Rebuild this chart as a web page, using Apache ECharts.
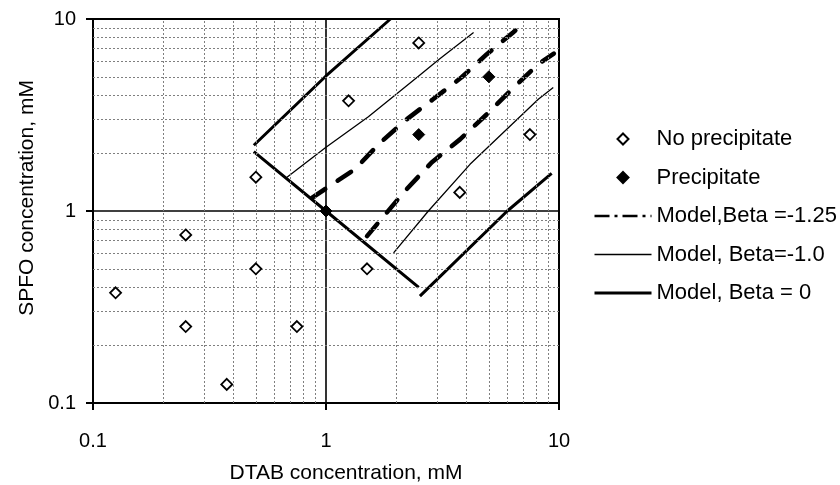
<!DOCTYPE html>
<html>
<head>
<meta charset="utf-8">
<script src="https://cdn.jsdelivr.net/npm/echarts@6/dist/echarts.min.js"></script>
<style>
  html, body { margin: 0; padding: 0; background: #fff; }
  #chart { width: 840px; height: 485px; }
</style>
</head>
<body>
<div id="chart"></div>
<script>
// Decade labels on both log axes
const decadeTicks = [0.1, 1, 10];
// Values for the dotted minor grid lines (2..9 within each decade)
const minorGridValues = [0.2, 0.3, 0.4, 0.5, 0.6, 0.7, 0.8, 0.9, 2, 3, 4, 5, 6, 7, 8, 9];

// Observations: [DTAB mM, SPFO mM]
const noPrecipitate = [
  [0.125, 0.375], [0.25, 0.75], [0.25, 0.25], [0.375, 0.125],
  [0.5, 0.5], [0.5, 1.5], [0.75, 0.25], [1.5, 0.5],
  [1.25, 3.75], [2.5, 7.5], [3.75, 1.25], [7.5, 2.5]
];
const precipitate = [[1, 1], [2.5, 2.5], [5, 5]];

// Model boundaries, Beta = -1.25
const beta125Upper = [
  [0.87, 1.17], [1.33, 1.65], [1.71, 2.27], [2.22, 3.0], [2.88, 3.82],
  [3.82, 4.97], [4.9, 6.56], [6.37, 8.53], [7.2, 9.7]
];
const beta125Lower = [
  [1.5, 0.74], [2.18, 1.27], [2.84, 1.79], [3.76, 2.36], [4.9, 3.19],
  [6.27, 4.3], [8.15, 5.82], [9.5, 6.6]
];

// Model boundaries, Beta = -1.0
const beta10Upper = [[0.68, 1.5], [1, 2.15], [1.52, 3.1], [2.5, 5.05], [3.08, 6.2], [4.3, 8.5]];
const beta10Lower = [[1.95, 0.605], [2.75, 1.0], [4.15, 1.75], [8.15, 3.82], [9.45, 4.4]];

// Model boundaries, Beta = 0
const beta0Upper = [[0.49, 2.2], [1, 5.05], [1.89, 10]];
const beta0Lower = [[0.49, 2.04], [1, 1], [2.5, 0.4]];
const beta0Right = [[2.53, 0.36], [6, 1], [9.3, 1.57]];

const FONT = 'Liberation Sans, Arial, Helvetica, sans-serif';
const NAME_B125 = 'Model,Beta =-1.25';
const NAME_B10 = 'Model, Beta=-1.0';
const NAME_B0 = 'Model, Beta = 0';
const DIAMOND = 'path://M0,-1L1,0L0,1L-1,0Z';

const fmt = v => String(Number(v.toPrecision(3)));

const logAxisBase = {
  type: 'log',
  logBase: 10,
  min: 0.1,
  max: 10,
  nameLocation: 'middle',
  axisLine: { show: true, lineStyle: { color: '#000', width: 2 } },
  axisTick: { show: true, inside: false, length: 7, lineStyle: { color: '#000', width: 2 } },
  splitLine: { show: true, lineStyle: { color: '#000', width: 1.6 } },
  minorTick: { show: false },
  minorSplitLine: { show: false }
};

const thickDash = { color: '#000', width: 4.6, type: [16, 15], cap: 'round' };
const thin = { color: '#000', width: 1.3 };
const thick = { color: '#000', width: 3 };

function lineSeries(name, data, style) {
  return {
    type: 'line', name, data,
    symbol: 'none', showSymbol: false, smooth: false,
    lineStyle: style, itemStyle: { color: '#000' }, silent: true, z: 3
  };
}

const hiddenDot = { opacity: 0 };

const chart = echarts.init(document.getElementById('chart'), null, { renderer: 'canvas' });
chart.setOption({
  animation: false,
  backgroundColor: '#fff',
  textStyle: { fontFamily: FONT, color: '#000' },
  grid: {
    left: 93, right: 281, top: 19, bottom: 82,
    containLabel: false, outerBoundsMode: 'none',
    show: true, borderColor: '#000', borderWidth: 2, backgroundColor: 'transparent'
  },
  xAxis: Object.assign({}, logAxisBase, {
    name: 'DTAB concentration, mM',
    nameGap: 60,
    nameTextStyle: { fontSize: 21, color: '#000', fontFamily: FONT, padding: [0, 0, 0, 40] },
    axisLabel: { fontSize: 20, color: '#000', margin: 28, fontFamily: FONT,
      formatter: v => decadeTicks.includes(Number(fmt(v))) ? fmt(v) : '' }
  }),
  yAxis: Object.assign({}, logAxisBase, {
    name: 'SPFO concentration, mM',
    nameGap: 54,
    nameTextStyle: { fontSize: 21, color: '#000', fontFamily: FONT, padding: [0, 0, 0, 26] },
    axisLabel: { fontSize: 20, color: '#000', margin: 17, fontFamily: FONT,
      formatter: v => decadeTicks.includes(Number(fmt(v))) ? fmt(v) : '' }
  }),
  legend: {
    orient: 'vertical',
    left: 588, top: 123,
    itemWidth: 57, itemHeight: 11, itemGap: 16.5,
    symbolKeepAspect: true,
    selectedMode: false,
    textStyle: { fontSize: 22, color: '#000', fontFamily: FONT },
    data: [
      { name: 'No precipitate', icon: DIAMOND },
      { name: 'Precipitate', icon: DIAMOND },
      { name: NAME_B125, itemStyle: hiddenDot, lineStyle: { type: [15, 5, 3, 5], width: 2.5, cap: 'butt' } },
      { name: NAME_B10, itemStyle: hiddenDot, lineStyle: { width: 1.5 } },
      { name: NAME_B0, itemStyle: hiddenDot, lineStyle: { width: 3 } }
    ]
  },
  series: [
    {
      // dotted minor grid
      type: 'line', name: 'minor grid', data: [], silent: true, z: 1,
      markLine: {
        silent: true, symbol: ['none', 'none'], animation: false,
        label: { show: false },
        lineStyle: { color: '#7f7f7f', width: 1, type: [2, 2] },
        emphasis: { disabled: true },
        data: minorGridValues.map(v => ({ xAxis: v }))
          .concat(minorGridValues.map(v => ({ yAxis: v })))
      }
    },
    lineSeries(NAME_B0, beta0Upper, thick),
    lineSeries(NAME_B0, beta0Lower, thick),
    lineSeries(NAME_B0, beta0Right, thick),
    lineSeries(NAME_B10, beta10Upper, thin),
    lineSeries(NAME_B10, beta10Lower, thin),
    lineSeries(NAME_B125, beta125Upper, thickDash),
    lineSeries(NAME_B125, beta125Lower, thickDash),
    {
      type: 'scatter', name: 'No precipitate', data: noPrecipitate,
      symbol: 'diamond', symbolSize: 11, silent: true, z: 5,
      itemStyle: { color: '#fff', borderColor: '#000', borderWidth: 1.8, opacity: 1 }
    },
    {
      type: 'scatter', name: 'Precipitate', data: precipitate,
      symbol: 'diamond', symbolSize: 12, silent: true, z: 5,
      itemStyle: { color: '#000', borderColor: '#000', borderWidth: 1, opacity: 1 }
    }
  ]
});
</script>
</body>
</html>
